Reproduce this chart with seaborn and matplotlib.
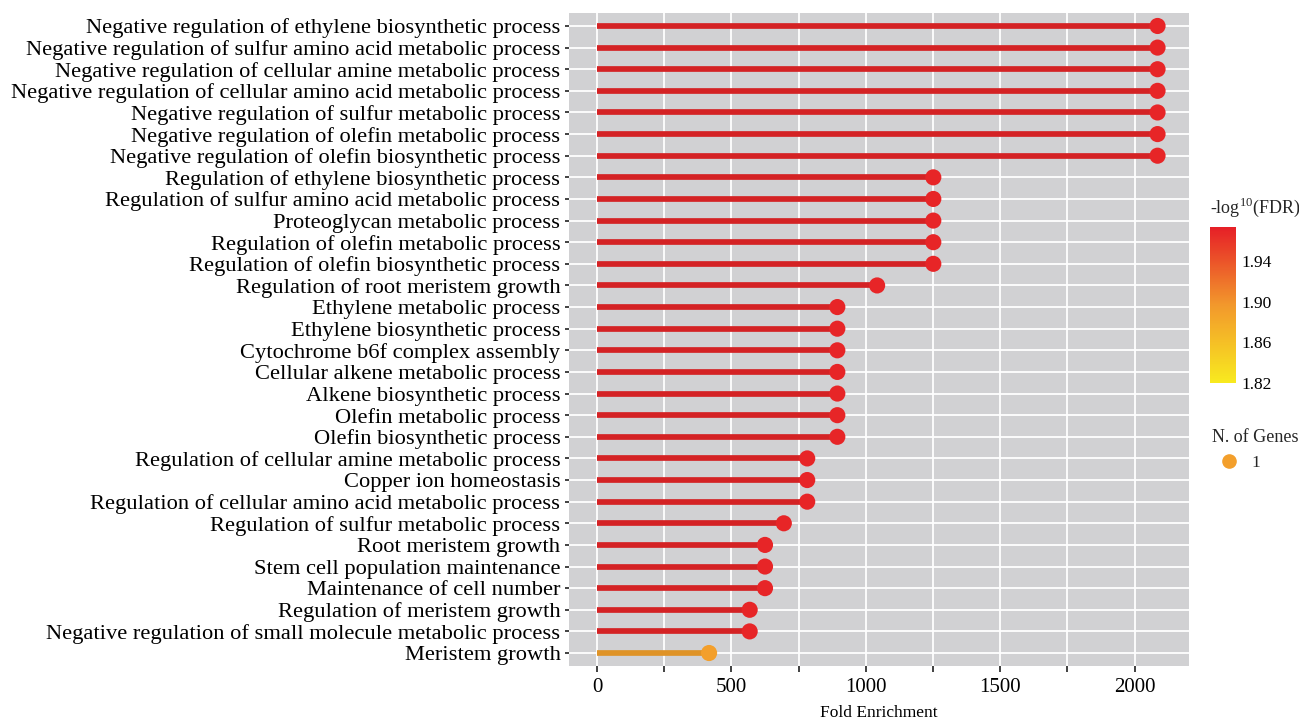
import numpy as np
import pandas as pd
import matplotlib
matplotlib.use("Agg")
import matplotlib.pyplot as plt
import seaborn as sns
from matplotlib.colors import LinearSegmentedColormap, Normalize, to_rgb
from matplotlib.cm import ScalarMappable
from matplotlib.lines import Line2D

terms = [
    "Negative regulation of ethylene biosynthetic process",
    "Negative regulation of sulfur amino acid metabolic process",
    "Negative regulation of cellular amine metabolic process",
    "Negative regulation of cellular amino acid metabolic process",
    "Negative regulation of sulfur metabolic process",
    "Negative regulation of olefin metabolic process",
    "Negative regulation of olefin biosynthetic process",
    "Regulation of ethylene biosynthetic process",
    "Regulation of sulfur amino acid metabolic process",
    "Proteoglycan metabolic process",
    "Regulation of olefin metabolic process",
    "Regulation of olefin biosynthetic process",
    "Regulation of root meristem growth",
    "Ethylene metabolic process",
    "Ethylene biosynthetic process",
    "Cytochrome b6f complex assembly",
    "Cellular alkene metabolic process",
    "Alkene biosynthetic process",
    "Olefin metabolic process",
    "Olefin biosynthetic process",
    "Regulation of cellular amine metabolic process",
    "Copper ion homeostasis",
    "Regulation of cellular amino acid metabolic process",
    "Regulation of sulfur metabolic process",
    "Root meristem growth",
    "Stem cell population maintenance",
    "Maintenance of cell number",
    "Regulation of meristem growth",
    "Negative regulation of small molecule metabolic process",
    "Meristem growth",
]
fold_enrichment = [2085, 2085, 2085, 2085, 2085, 2085, 2085,
                   1251, 1251, 1251, 1251, 1251,
                   1042,
                   894, 894, 894, 894, 894, 894, 894,
                   782, 782, 782,
                   695,
                   625, 625, 625,
                   568, 568,
                   417]
neg_log10_fdr = [1.97] * 29 + [1.89]
n_genes = [1] * 30

x_ticks = [0, 250, 500, 750, 1000, 1250, 1500, 1750, 2000]
x_ticklabels = ["0", "", "500", "", "1000", "", "1500", "", "2000"]
cbar_ticks = [1.82, 1.86, 1.90, 1.94]

df = pd.DataFrame({"term": terms, "fe": fold_enrichment,
                   "fdr": neg_log10_fdr, "genes": n_genes})

sns.set_theme(style="darkgrid")
plt.rcParams['font.family'] = ['Liberation Serif', 'DejaVu Serif']
plt.rcParams['mathtext.fontset'] = 'custom'
plt.rcParams['mathtext.rm'] = 'Liberation Serif'

cmap = LinearSegmentedColormap.from_list('fdr', ['#F8EA1F', '#F2982C', '#E61F27'])
norm = Normalize(1.82, 1.974)

fig = plt.figure(figsize=(12.99, 7.25), dpi=100)
ax = fig.add_axes([569/1299, 1-666/725, (1189-569)/1299, (666-13)/725])
ax.set_facecolor('#D1D1D3')

sns.scatterplot(data=df, x="fe", y="term", hue="fdr", palette=cmap, hue_norm=norm,
                s=135, linewidth=0, legend=False, ax=ax, zorder=3)


def darker(c, f=0.9):
    r, g, b = to_rgb(c)
    return (r * f, g * f, b * f)


line_colors = [darker(cmap(norm(v)), 0.92) for v in df["fdr"]]
ax.hlines(df["term"], 0, df["fe"], colors=line_colors, lw=4.1, zorder=2)

ax.set_xlim(-104, 2202)
ax.set_ylim(len(terms) - 0.4, -0.6)
ax.set_xticks(x_ticks)
ax.set_xticklabels(x_ticklabels)
ax.grid(True, color='white', lw=1.3)
ax.set_axisbelow(True)
for s in ax.spines.values():
    s.set_visible(False)
ax.tick_params(axis='both', left=True, bottom=True, width=1.3, color='#333333',
               direction='out', labelcolor='black')
ax.tick_params(axis='y', labelsize=16.2, length=3.2, pad=3)
ax.tick_params(axis='x', labelsize=15, length=4.5, pad=4)
ax.set_ylabel("")
ax.set_xlabel("Fold Enrichment", fontsize=12.5, labelpad=6, color='black')

# colorbar
cax = fig.add_axes([1210/1299, 1-383/725, 26/1299, 156/725])
cb = fig.colorbar(ScalarMappable(norm=norm, cmap=cmap), cax=cax)
cb.outline.set_visible(False)
cb.set_ticks(cbar_ticks)
cb.set_ticklabels([f"{t:.2f}" for t in cbar_ticks])
cax.tick_params(direction='in', length=5, width=1.2, color='white', left=True, right=True,
                labelleft=False, labelright=True, labelsize=12.5, labelcolor='black', pad=4)
fig.text(1210/1299, 1-207/725, r"-log$^{\mathrm{10}}$(FDR)", fontsize=13, va='center', ha='left')

# size legend
handle = Line2D([], [], marker='o', ls='', color=cmap(norm(1.89)), markersize=9.5)
leg = fig.legend(handles=[handle], labels=["1"], title="N. of Genes", loc='upper left',
                 bbox_to_anchor=(1205/1299, 1-422/725), frameon=False, fontsize=12.5,
                 title_fontsize=13, handletextpad=0.3, borderaxespad=0)
leg._legend_box.align = 'left'

fig.savefig("out.png", dpi=100)
